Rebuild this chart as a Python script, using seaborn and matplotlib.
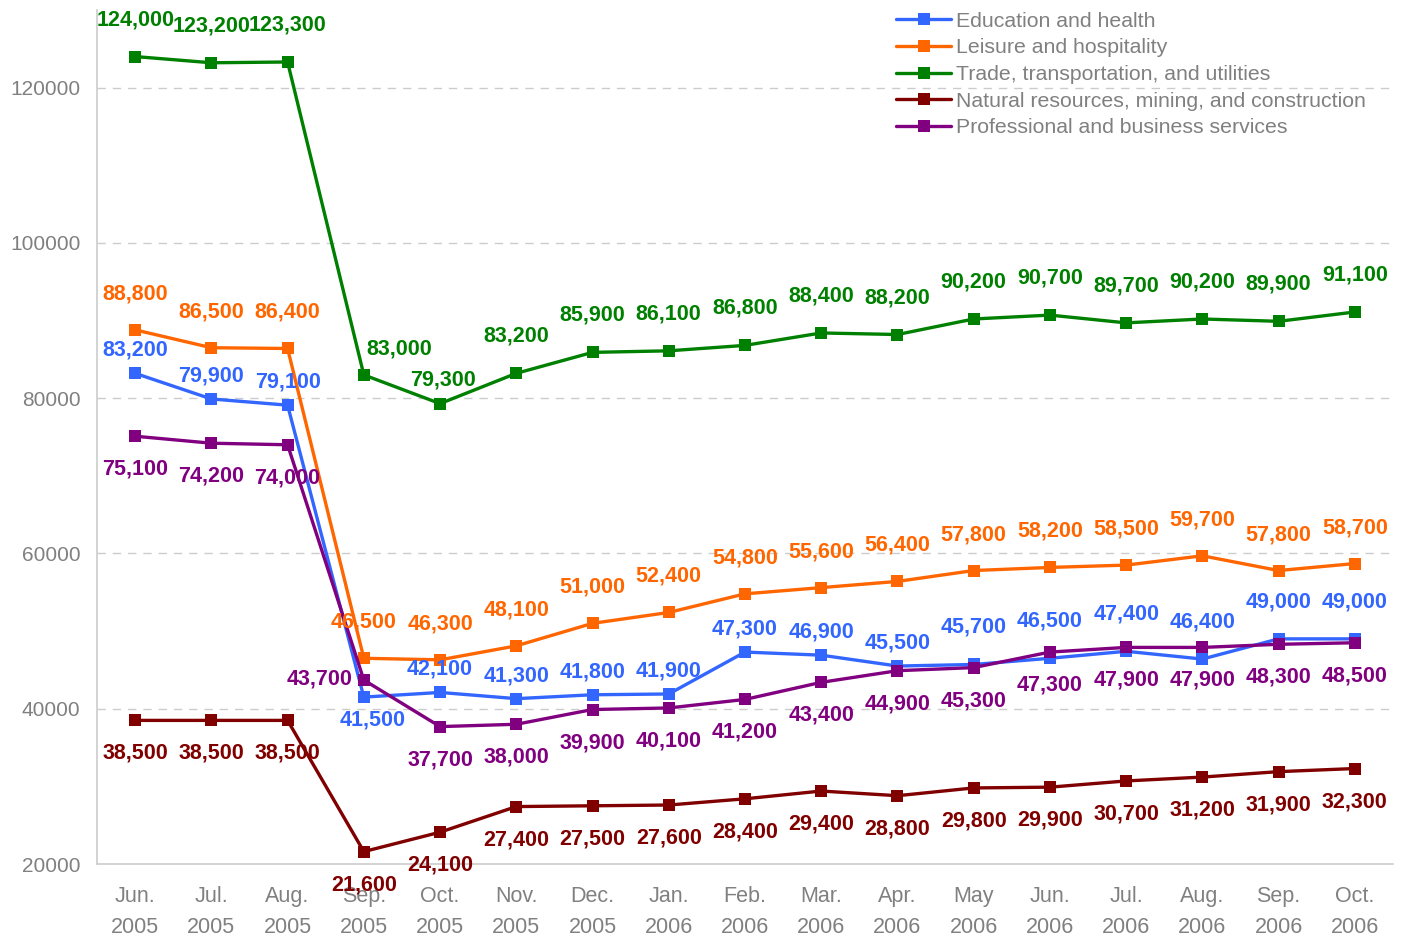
import numpy as np
import pandas as pd
import matplotlib
matplotlib.use("Agg")
import matplotlib.pyplot as plt
import seaborn as sns

# Data
months = ["Jun.\n2005", "Jul.\n2005", "Aug.\n2005", "Sep.\n2005", "Oct.\n2005", "Nov.\n2005",
          "Dec.\n2005", "Jan.\n2006", "Feb.\n2006", "Mar.\n2006", "Apr.\n2006", "May\n2006",
          "Jun.\n2006", "Jul.\n2006", "Aug.\n2006", "Sep.\n2006", "Oct.\n2006"]
education = [83200, 79900, 79100, 41500, 42100, 41300, 41800, 41900, 47300, 46900, 45500,
             45700, 46500, 47400, 46400, 49000, 49000]
leisure = [88800, 86500, 86400, 46500, 46300, 48100, 51000, 52400, 54800, 55600, 56400,
           57800, 58200, 58500, 59700, 57800, 58700]
trade = [124000, 123200, 123300, 83000, 79300, 83200, 85900, 86100, 86800, 88400, 88200,
         90200, 90700, 89700, 90200, 89900, 91100]
natural = [38500, 38500, 38500, 21600, 24100, 27400, 27500, 27600, 28400, 29400, 28800,
           29800, 29900, 30700, 31200, 31900, 32300]
professional = [75100, 74200, 74000, 43700, 37700, 38000, 39900, 40100, 41200, 43400, 44900,
                45300, 47300, 47900, 47900, 48300, 48500]

series = [
    ("Education and health", education, "#3366ff"),
    ("Leisure and hospitality", leisure, "#ff6600"),
    ("Trade, transportation, and utilities", trade, "#008000"),
    ("Natural resources, mining, and construction", natural, "#800000"),
    ("Professional and business services", professional, "#800080"),
]

# label offsets in pixels (dx, dy) per point
n = len(months)
offsets = {
    "Education and health": [(0, 23)] * 11 + [(0, 37)] * 6,
    "Leisure and hospitality": [(0, 36)] * n,
    "Trade, transportation, and utilities": [(0, 37)] * n,
    "Natural resources, mining, and construction": [(0, -33)] * n,
    "Professional and business services": [(0, -33)] * n,
}
offsets["Education and health"][3] = (9, -23)
offsets["Trade, transportation, and utilities"][3] = (35, 26)
offsets["Trade, transportation, and utilities"][4] = (3, 24)
offsets["Professional and business services"][3] = (-44, 1)

sns.set_style("white")
plt.rcParams["font.family"] = ["Liberation Sans", "DejaVu Sans"]

fig = plt.figure(figsize=(14.08, 9.41), dpi=100)
ax = fig.add_axes([0.0689, 0.0818, 0.9204, 0.9076])

x = np.arange(n)
for name, vals, color in series:
    df = pd.DataFrame({"x": x, "value": vals})
    sns.lineplot(data=df, x="x", y="value", ax=ax, color=color, marker="s",
                 markersize=9, markeredgewidth=0, linewidth=2.4, label=name)
    for xi, v, (dx, dy) in zip(x, vals, offsets[name]):
        ax.annotate(f"{v:,}", (xi, v), xytext=(dx, dy), textcoords="offset pixels",
                    ha="center", va="center", color=color, fontsize=15.5,
                    fontweight="bold", annotation_clip=False)

ax.set_xlim(-0.5, n - 0.5)
ax.set_ylim(20000, 130000)
ax.set_xlabel("")
ax.set_ylabel("")

ax.set_yticks(range(20000, 130000, 20000))
ax.set_yticklabels([str(v) for v in range(20000, 130000, 20000)])
for y in range(40000, 130000, 20000):
    ax.axhline(y, color="#cccccc", linestyle=(0, (6, 5)), linewidth=1, zorder=0)

ax.set_xticks(x)
ax.set_xticklabels(months, linespacing=1.62)
ax.set_xticks(np.arange(-0.5, n, 1), minor=True)
ax.tick_params(axis="x", which="major", length=0, pad=16, colors="#808080", labelsize=15.5)
ax.tick_params(axis="x", which="minor", length=6, color="#cccccc", width=1, direction="out")
ax.tick_params(axis="y", length=0, pad=12, labelcolor="#808080", labelsize=15)

for side in ["top", "right"]:
    ax.spines[side].set_visible(False)
for side in ["left", "bottom"]:
    ax.spines[side].set_color("#cccccc")
    ax.spines[side].set_linewidth(1.2)

leg = ax.legend(loc="upper left", bbox_to_anchor=(0.61, 1.008), frameon=False,
                fontsize=15.3, handlelength=2.6, handletextpad=0.2, labelspacing=0.36,
                borderaxespad=0)
for t in leg.get_texts():
    t.set_color("#808080")

fig.savefig("out.png", dpi=100)
